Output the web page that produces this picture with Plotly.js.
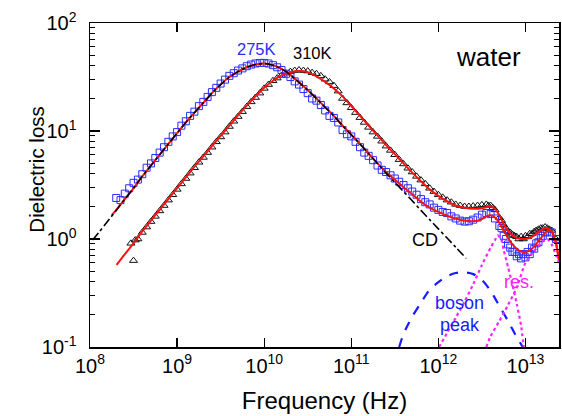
<!DOCTYPE html>
<html>
<head>
<meta charset="utf-8">
<script src="https://cdn.plot.ly/plotly-3.0.1.min.js"></script>
<style>html,body{margin:0;padding:0;background:#fff;}#chart{width:562px;height:416px;}</style>
</head>
<body>
<div id="chart"></div>
<script>
// ---- measured data: 275 K (blue squares) ----
var f275 = [2.00e8,2.24e8,2.51e8,2.82e8,3.16e8,3.55e8,3.98e8,4.47e8,5.01e8,5.62e8,6.31e8,7.08e8,7.94e8,8.91e8,
  1.00e9,1.12e9,1.26e9,1.41e9,1.58e9,1.78e9,2.00e9,2.24e9,2.51e9,2.82e9,3.16e9,3.55e9,3.98e9,4.47e9,5.01e9,5.62e9,6.31e9,7.08e9,7.94e9,8.91e9,
  1.00e10,1.12e10,1.26e10,1.41e10,1.58e10,1.78e10,2.00e10,2.24e10,2.51e10,2.82e10,3.16e10,3.55e10,3.98e10,4.47e10,5.01e10,5.62e10,6.31e10,7.08e10,7.94e10,8.91e10,
  1.00e11,1.12e11,1.26e11,1.41e11,1.58e11,1.78e11,2.00e11,2.24e11,2.51e11,2.82e11,3.16e11,3.55e11,3.98e11,4.47e11,5.01e11,5.62e11,6.31e11,7.08e11,7.94e11,8.91e11,
  1.00e12,1.12e12,1.26e12,1.41e12,1.58e12,1.78e12,2.00e12,2.24e12,2.51e12,2.82e12,3.16e12,3.55e12,3.98e12,4.47e12,5.01e12,5.62e12,6.31e12,7.08e12,7.94e12,8.91e12,
  1.00e13,1.12e13,1.26e13,1.41e13,1.58e13,1.78e13,2.00e13,2.24e13,
  5.31e12,5.96e12,6.68e12,7.50e12,8.41e12,9.44e12,1.06e13,1.19e13,1.33e13,1.50e13,1.68e13];
var loss275 = [2.40,2.29,2.63,2.95,3.31,3.55,3.98,4.57,5.01,5.62,6.31,7.08,7.94,8.91,
  9.77,11.2,12.3,13.8,15.1,17.0,18.6,20.7,22.9,25.1,27.5,29.9,32.4,34.3,36.3,38.0,39.8,41.2,42.2,42.7,
  42.7,42.2,40.7,38.9,36.7,33.9,31.6,28.8,26.9,24.5,22.4,20.0,19.1,17.4,15.5,13.8,13.2,12.0,10.2,9.33,
  8.91,7.94,7.08,6.31,5.89,5.37,4.79,4.37,4.17,3.89,3.63,3.39,3.16,2.95,2.75,2.57,2.34,2.19,2.09,1.95,
  1.86,1.78,1.74,1.62,1.55,1.48,1.45,1.46,1.51,1.58,1.68,1.74,1.70,1.55,1.32,1.07,0.891,0.759,0.692,0.661,
  0.676,0.724,0.813,0.933,1.07,1.17,1.15,1.00,
  1.26,1.00,0.832,0.759,0.724,0.724,0.759,0.832,0.912,1.02,1.15];

// ---- measured data: 310 K (black triangles) ----
var f310 = [2.95e8,3.16e8,3.31e8,3.55e8,3.98e8,4.47e8,5.01e8,5.62e8,6.31e8,7.08e8,7.94e8,8.91e8,
  1.00e9,1.12e9,1.26e9,1.41e9,1.58e9,1.78e9,2.00e9,2.24e9,2.51e9,2.82e9,3.16e9,3.55e9,3.98e9,4.47e9,5.01e9,5.62e9,6.31e9,7.08e9,7.94e9,8.91e9,
  1.00e10,1.12e10,1.26e10,1.41e10,1.58e10,1.78e10,2.00e10,2.24e10,2.51e10,2.82e10,3.16e10,3.55e10,3.98e10,4.47e10,5.01e10,5.62e10,6.31e10,7.08e10,7.94e10,8.91e10,
  1.00e11,1.12e11,1.26e11,1.41e11,1.58e11,1.78e11,2.00e11,2.24e11,2.51e11,2.82e11,3.16e11,3.55e11,3.98e11,4.47e11,5.01e11,5.62e11,6.31e11,7.08e11,7.94e11,8.91e11,
  1.00e12,1.12e12,1.26e12,1.41e12,1.58e12,1.78e12,2.00e12,2.24e12,2.51e12,2.82e12,3.16e12,3.55e12,3.98e12,4.47e12,5.01e12,5.62e12,6.31e12,7.08e12,7.94e12,8.91e12,
  1.00e13,1.12e13,1.26e13,1.41e13,1.58e13,1.78e13,2.00e13,2.24e13,
  3.76e12,4.22e12,5.31e12,5.96e12,6.68e12,7.50e12,8.41e12,9.44e12,1.06e13,1.19e13,1.33e13,1.50e13,1.68e13,1.88e13];
var loss310 = [0.912,0.631,0.977,1.00,1.15,1.29,1.45,1.62,1.82,2.04,2.29,2.57,
  2.88,3.24,3.63,4.07,4.57,5.13,5.69,6.31,7.08,7.94,8.81,9.77,11.0,12.3,13.6,15.1,16.8,18.6,20.4,22.4,
  24.8,26.9,29.2,30.9,32.7,34.3,35.5,36.3,36.7,36.3,35.9,34.7,33.9,32.4,30.2,28.5,26.3,23.4,20.0,18.2,
  16.4,14.8,13.3,12.0,10.8,9.77,8.91,8.04,7.24,6.61,6.03,5.43,4.95,4.52,4.17,3.80,3.51,3.24,2.95,2.75,
  2.57,2.43,2.29,2.19,2.09,2.04,2.00,2.00,2.02,2.04,2.07,2.09,2.04,1.86,1.58,1.35,1.17,1.10,1.05,1.05,
  1.07,1.12,1.17,1.23,1.26,1.26,1.20,1.00,
  2.04,1.95,1.48,1.26,1.15,1.07,1.00,1.00,1.05,1.12,1.20,1.26,1.29,1.23];

// ---- fit curves (red) ----
var fitF275 = [1.78e8,2.00e8,2.51e8,3.16e8,3.98e8,5.01e8,6.31e8,7.94e8,
  1.00e9,1.26e9,1.58e9,2.00e9,2.51e9,3.16e9,3.98e9,5.01e9,6.31e9,7.94e9,
  1.00e10,1.26e10,1.58e10,2.00e10,2.51e10,3.16e10,3.98e10,5.01e10,6.31e10,7.94e10,
  1.00e11,1.26e11,1.58e11,2.00e11,2.51e11,3.16e11,3.98e11,5.01e11,6.31e11,7.94e11,
  1.00e12,1.26e12,1.58e12,2.00e12,2.51e12,3.16e12,3.55e12,3.98e12,4.47e12,5.01e12,5.62e12,6.31e12,7.08e12,7.94e12,8.91e12,
  1.00e13,1.12e13,1.26e13,1.41e13,1.58e13,1.78e13,2.00e13,2.24e13,2.43e13];
var fit275 = [1.66,1.86,2.34,2.95,3.80,4.79,6.03,7.59,
  9.55,12.0,14.8,18.2,22.4,26.9,31.6,35.5,38.9,41.2,
  42.2,40.7,37.6,33.1,28.2,24.0,20.0,16.6,13.8,11.2,
  9.23,7.59,6.17,5.01,4.17,3.55,3.02,2.60,2.21,1.95,
  1.78,1.64,1.55,1.48,1.46,1.53,1.62,1.66,1.58,1.41,1.20,1.02,0.891,0.813,0.767,
  0.759,0.785,0.851,0.955,1.07,1.19,1.17,0.912,0.63];
var fitF310 = [2.02e8,2.51e8,3.16e8,3.98e8,5.01e8,6.31e8,7.94e8,
  1.00e9,1.26e9,1.58e9,2.00e9,2.51e9,3.16e9,3.98e9,5.01e9,6.31e9,7.94e9,
  1.00e10,1.26e10,1.58e10,2.00e10,2.51e10,3.16e10,3.98e10,5.01e10,6.31e10,7.94e10,
  1.00e11,1.26e11,1.58e11,2.00e11,2.51e11,3.16e11,3.98e11,5.01e11,6.31e11,7.94e11,
  1.00e12,1.26e12,1.58e12,2.00e12,2.51e12,3.16e12,3.55e12,3.98e12,4.47e12,5.01e12,5.62e12,6.31e12,7.08e12,7.94e12,8.91e12,
  1.00e13,1.12e13,1.26e13,1.41e13,1.58e13,1.78e13,2.00e13,2.24e13,2.43e13];
var fit310 = [0.575,0.724,0.912,1.175,1.479,1.862,2.344,
  2.951,3.715,4.677,5.82,7.24,9.02,11.2,14.0,17.2,20.9,
  25.1,29.2,32.7,35.1,35.9,35.1,32.0,28.5,24.8,20.9,
  17.0,13.8,11.2,9.12,7.41,6.10,5.01,4.12,3.43,2.88,
  2.51,2.24,2.04,1.95,1.91,1.93,1.97,2.00,1.91,1.66,1.38,1.19,1.08,1.02,1.00,
  1.00,1.02,1.08,1.16,1.23,1.26,1.17,0.912,0.63];

// ---- Cole-Davidson component (black dash-dot) ----
var cdF = [1.07e8,1.26e8,1.58e8,2.00e8,2.51e8,3.16e8,3.98e8,5.01e8,6.31e8,7.94e8,
  1.00e9,1.26e9,1.58e9,2.00e9,2.51e9,3.16e9,3.98e9,5.01e9,6.31e9,7.94e9,
  1.00e10,1.26e10,1.58e10,2.00e10,2.51e10,3.16e10,3.98e10,5.01e10,6.31e10,7.94e10,
  1.00e11,1.26e11,1.58e11,2.00e11,2.51e11,3.16e11,3.98e11,5.01e11,6.31e11,7.94e11,
  1.00e12,1.26e12,1.58e12,2.09e12];
var cdLoss = [0.977,1.148,1.445,1.84,2.34,2.95,3.80,4.79,6.03,7.59,
  9.55,12.0,14.8,18.2,22.4,26.9,31.6,35.5,38.9,41.2,
  42.2,40.7,37.6,33.1,28.2,24.0,20.0,16.6,13.8,11.2,
  9.23,7.59,6.17,5.01,4.07,3.35,2.75,2.26,1.84,1.51,
  1.24,1.02,0.841,0.661];

// ---- boson peak (blue dashed) ----
var bosonF = [3.55e11,3.98e11,5.01e11,6.31e11,7.94e11,1.00e12,1.26e12,1.58e12,2.00e12,2.51e12,3.16e12,3.98e12,5.01e12,6.31e12,7.94e12,9.33e12];
var bosonLoss = [0.1,0.132,0.191,0.257,0.339,0.398,0.452,0.484,0.490,0.473,0.417,0.331,0.240,0.174,0.123,0.1];

// ---- resonances (magenta dotted) ----
var res1F = [1.02e12,1.26e12,1.58e12,2.00e12,2.51e12,3.16e12,3.98e12,4.47e12,4.79e12,5.25e12,5.62e12,6.31e12,7.08e12,7.94e12,8.91e12,9.55e12];
var res1Loss = [0.1,0.135,0.186,0.263,0.380,0.575,0.832,0.977,1.08,1.00,0.794,0.550,0.380,0.251,0.158,0.1];
var res2F = [3.55e12,3.98e12,5.01e12,6.31e12,7.94e12,1.00e13,1.26e13,1.58e13,1.78e13,2.00e13,2.24e13,2.63e13];
var res2Loss = [0.1,0.126,0.174,0.245,0.355,0.603,0.776,0.955,1.00,0.891,0.708,0.50];

// ---- tick labels ----
var xTickVals = [1e8,1e9,1e10,1e11,1e12,1e13];
var xTickText = ['10<sup>8</sup>','10<sup>9</sup>','10<sup>10</sup>','10<sup>11</sup>','10<sup>12</sup>','10<sup>13</sup>'];
var yTickVals = [0.1,1,10,100];
var yTickText = ['10<sup>-1</sup>','10<sup>0</sup>','10<sup>1</sup>','10<sup>2</sup>'];
var yMinorVals = [0.2,0.3,0.4,0.5,0.6,0.7,0.8,0.9,2,3,4,5,6,7,8,9,20,30,40,50,60,70,80,90];

var FONT = 'Liberation Sans, Arial, Helvetica, sans-serif';
var BLUE = '#2b2bff', RED = '#ff1010', MAG = '#ff22ff';

var traces = [
  {x:f310, y:loss310, type:'scatter', mode:'markers',
   marker:{symbol:'triangle-up-open', size:7, color:'#111', line:{width:1, color:'#111'}}},
  {x:f275, y:loss275, type:'scatter', mode:'markers',
   marker:{symbol:'square-open', size:7, color:BLUE, line:{width:1, color:BLUE}}},
  {x:fitF310, y:fit310, type:'scatter', mode:'lines', line:{color:RED, width:2, shape:'spline', smoothing:0.6}},
  {x:fitF275, y:fit275, type:'scatter', mode:'lines', line:{color:RED, width:2, shape:'spline', smoothing:0.6}},
  {x:cdF, y:cdLoss, type:'scatter', mode:'lines', line:{color:'#000', width:1.6, dash:'dashdot', shape:'spline', smoothing:0.6}},
  {x:bosonF, y:bosonLoss, type:'scatter', mode:'lines', line:{color:'#1a1aff', width:2.2, dash:'dash', shape:'spline', smoothing:0.8}},
  {x:res1F, y:res1Loss, type:'scatter', mode:'lines', line:{color:MAG, width:2.2, dash:'dot', shape:'spline', smoothing:0.6}},
  {x:res2F, y:res2Loss, type:'scatter', mode:'lines', line:{color:MAG, width:2.2, dash:'dot', shape:'spline', smoothing:0.6}}
];

var layout = {
  width:562, height:416,
  margin:{l:90, r:3, t:23, b:69},
  paper_bgcolor:'#fff', plot_bgcolor:'#fff',
  showlegend:false,
  font:{family:FONT, color:'#000'},
  xaxis:{type:'log', range:[8,13.385], tickmode:'array', tickvals:xTickVals, ticktext:xTickText,
    ticks:'inside', ticklen:9, tickwidth:1.3, tickcolor:'#000',
    showline:true, linewidth:1.5, linecolor:'#000', mirror:'ticks',
    showgrid:false, zeroline:false, tickfont:{size:20, family:FONT},
    title:{text:'Frequency (Hz)', font:{size:24, family:FONT}, standoff:16}},
  yaxis:{type:'log', range:[-1,2], tickmode:'array', tickvals:yTickVals, ticktext:yTickText,
    ticks:'inside', ticklen:10, tickwidth:1.3, tickcolor:'#000', ticklabelstandoff:8,
    minor:{tickmode:'array', tickvals:yMinorVals, ticks:'inside', ticklen:5, tickwidth:1, tickcolor:'#000', showgrid:false},
    showline:true, linewidth:1.5, linecolor:'#000', mirror:'ticks',
    showgrid:false, zeroline:false, tickfont:{size:20, family:FONT}},
  annotations:[
    {xref:'paper', yref:'paper', x:-0.114, y:0.546, xanchor:'center', yanchor:'middle',
     text:'Dielectric loss', textangle:-90, showarrow:false,
     font:{size:20.5, family:FONT, color:'#000'}},
    {x:9.911, y:1.759, text:'275K', showarrow:false, font:{size:16.5, family:FONT, color:BLUE}},
    {x:10.554, y:1.722, text:'310K', showarrow:false, font:{size:16.5, family:FONT, color:'#000'}},
    {x:12.57, y:1.685, text:'water', showarrow:false, font:{size:26, family:FONT, color:'#000'}},
    {x:11.843, y:-0.013, text:'CD', showarrow:false, font:{size:18, family:FONT, color:'#000'}},
    {x:12.24, y:-0.595, text:'boson', showarrow:false, font:{size:18, family:FONT, color:'#1a1aff'}},
    {x:12.25, y:-0.80, text:'peak', showarrow:false, font:{size:18, family:FONT, color:'#1a1aff'}},
    {x:12.93, y:-0.398, text:'res.', showarrow:false, font:{size:18, family:FONT, color:MAG}}
  ]
};

Plotly.newPlot('chart', traces, layout, {staticPlot:true, displayModeBar:false});
</script>
</body>
</html>
